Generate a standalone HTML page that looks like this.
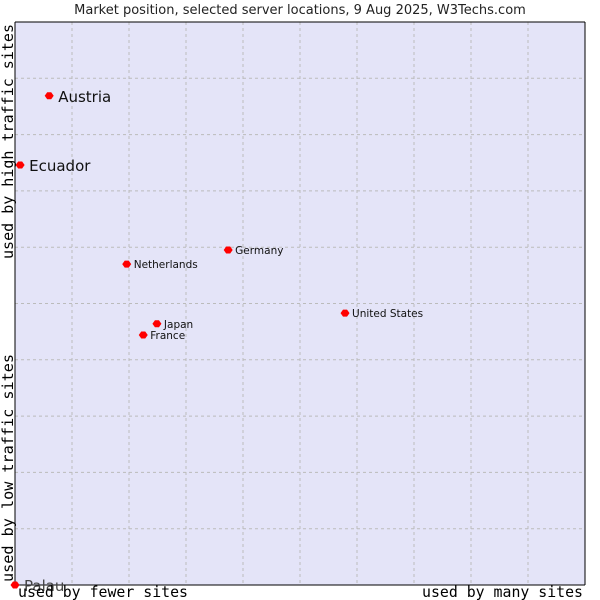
<!DOCTYPE html>
<html><head><meta charset="utf-8"><style>
body{margin:0;background:#fff}
svg{display:block;font-family:"DejaVu Sans","Liberation Sans",sans-serif}
</style></head><body>
<svg width="600" height="600">
<text x="300" y="14" text-anchor="middle" font-size="13" fill="#222">Market position, selected server locations, 9 Aug 2025, W3Techs.com</text>
<rect x="15" y="22" width="570" height="563" fill="#e4e4f8"/>
<g id="grid"></g>
<line x1="15" y1="22" x2="15" y2="585" stroke="#000"/>
<line x1="15" y1="585" x2="585" y2="585" stroke="#000"/>
<line x1="15" y1="22" x2="585" y2="22" stroke="#000"/>
<line x1="585" y1="22" x2="585" y2="585" stroke="#000"/>
<g id="points"></g>
<g font-family="'DejaVu Sans Mono','Liberation Mono',monospace" font-size="14.8" fill="#000">
<text x="18" y="597" textLength="170" lengthAdjust="spacingAndGlyphs">used by fewer sites</text>
<text x="422" y="597" textLength="161" lengthAdjust="spacingAndGlyphs">used by many sites</text>
<text transform="translate(13,582) rotate(-90)" textLength="228" lengthAdjust="spacingAndGlyphs">used by low traffic sites</text>
<text transform="translate(13,259) rotate(-90)" textLength="235" lengthAdjust="spacingAndGlyphs">used by high traffic sites</text>
</g>
</svg>
<script>
const names=["Austria","Ecuador","Germany","Netherlands","United States","Japan","France","Palau"];
const xVals=[6.0,0.9,37.4,19.6,57.9,24.9,22.5,0];
const yVals=[86.9,74.6,59.5,57.0,48.3,46.4,44.4,0];
const big=[true,true,false,false,false,false,false,true];
const NS="http://www.w3.org/2000/svg";
const X=v=>15+v*5.7, Y=v=>585-v*5.63;
const grid=document.getElementById('grid');
for(let i=1;i<10;i++){
 const l=document.createElementNS(NS,'line');
 
 
 l.setAttribute('x1',X(i*10));l.setAttribute('x2',X(i*10));l.setAttribute('y1',22);l.setAttribute('y2',585);
 l.setAttribute('stroke','#bbb');l.setAttribute('stroke-dasharray','3,3');grid.appendChild(l);
 const h=document.createElementNS(NS,'line');
 
 
 h.setAttribute('y1',Y(i*10));h.setAttribute('y2',Y(i*10));h.setAttribute('x1',15);h.setAttribute('x2',585);
 h.setAttribute('stroke','#bbb');h.setAttribute('stroke-dasharray','3,3');grid.appendChild(h);
}
const pts=document.getElementById('points');
names.forEach((n,i)=>{
 const x=X(xVals[i]),y=Y(yVals[i]);
 const m=document.createElementNS(NS,'path');
 
 
 m.setAttribute('d',`M${x-4.5},${y} L${x-2},${y-3.5} L${x+2},${y-3.5} L${x+4.5},${y} L${x+2},${y+3.5} L${x-2},${y+3.5}Z`);
 m.setAttribute('fill','#f00');pts.appendChild(m);
 const t=document.createElementNS(NS,'text');
 
 
 t.setAttribute('x',x+(big[i]?9:7));t.setAttribute('y',y+(big[i]?6:4));
 t.setAttribute('font-size',big[i]?15:10.5);
 t.setAttribute('fill',n==="Palau"?'#444':'#111');
 t.textContent=n;pts.appendChild(t);
});
</script>
</body></html>
